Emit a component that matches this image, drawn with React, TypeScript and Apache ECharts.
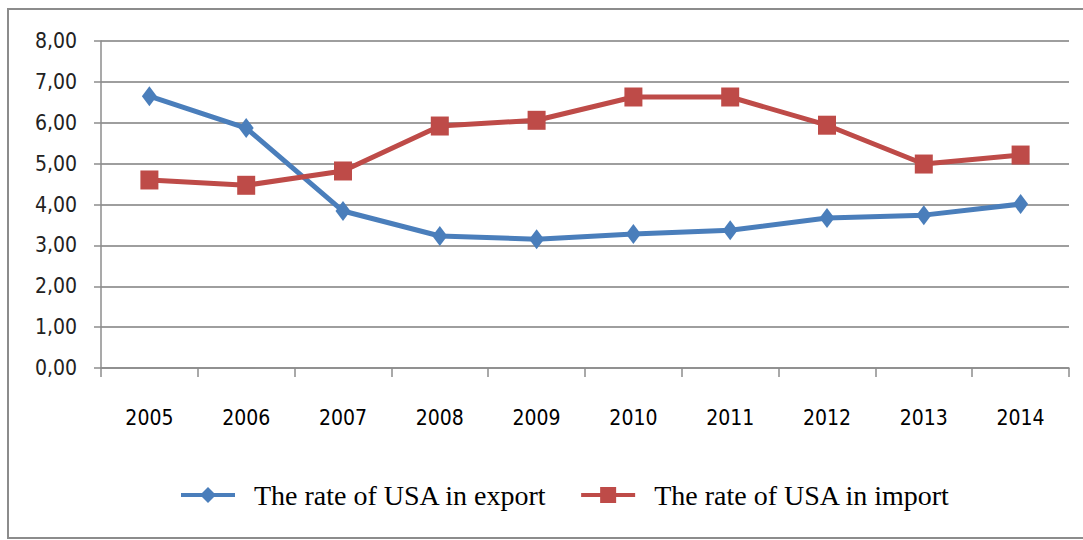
import React, { useEffect, useRef } from "react";
import * as echarts from "echarts";

const years = ["2005", "2006", "2007", "2008", "2009", "2010", "2011", "2012", "2013", "2014"];
const exportRate = [6.65, 5.87, 3.84, 3.23, 3.15, 3.28, 3.37, 3.67, 3.74, 4.01];
const importRate = [4.6, 4.47, 4.82, 5.92, 6.06, 6.63, 6.63, 5.94, 4.99, 5.21];
const seriesNames = ["The rate of USA in export", "The rate of USA in import"];

export default function App() {
  const ref = useRef<HTMLDivElement>(null);
  useEffect(() => {
    if (!ref.current) return;
    const chart = echarts.init(ref.current, null, { renderer: "svg" });
    const labelFont = "'DejaVu Sans Condensed', 'DejaVu Sans', sans-serif";
    chart.setOption({
      animation: false,
      backgroundColor: "#ffffff",
      graphic: [
        {
          type: "rect",
          shape: { x: 8, y: 9, width: 1090, height: 529 },
          style: { fill: "none", stroke: "#8c8c8c", lineWidth: 2 },
          silent: true,
        },
      ],
      grid: { left: 101, right: 14, top: 41, bottom: 172 },
      xAxis: {
        type: "category",
        data: years,
        boundaryGap: true,
        axisLine: { lineStyle: { color: "#8c8c8c", width: 1.5 } },
        axisTick: { show: true, length: 9, lineStyle: { color: "#8c8c8c", width: 1.5 } },
        axisLabel: { color: "#000", fontFamily: labelFont, fontSize: 21, margin: 39 },
      },
      yAxis: {
        type: "value",
        min: 0,
        max: 8,
        interval: 1,
        axisLine: { show: true, lineStyle: { color: "#8c8c8c", width: 1.5 } },
        axisTick: { show: true, length: 7, lineStyle: { color: "#8c8c8c", width: 1.5 } },
        splitLine: { lineStyle: { color: "#9e9e9e", width: 1.8 } },
        axisLabel: {
          color: "#222",
          fontFamily: labelFont,
          fontSize: 21,
          margin: 24,
          formatter: (v: number) => v.toFixed(2).replace(".", ","),
        },
      },
      legend: {
        data: seriesNames,
        left: 174,
        top: 476,
        itemWidth: 54,
        itemHeight: 20,
        itemGap: 32,
        lineStyle: { width: 4 },
        textStyle: {
          fontFamily: "'Liberation Serif', 'Times New Roman', serif",
          fontSize: 28,
          color: "#000",
          padding: [0, 0, 0, 14],
        },
      },
      series: [
        {
          name: seriesNames[0],
          type: "line",
          data: exportRate,
          symbol: "diamond",
          symbolSize: [15, 20],
          lineStyle: { color: "#4a7ebb", width: 5 },
          itemStyle: { color: "#4a7ebb" },
        },
        {
          name: seriesNames[1],
          type: "line",
          data: importRate,
          symbol: "rect",
          symbolSize: [18, 19],
          lineStyle: { color: "#be4b48", width: 5 },
          itemStyle: { color: "#be4b48" },
        },
      ],
    });
    return () => chart.dispose();
  }, []);
  return (
    <div
      ref={ref}
      style={{ position: "fixed", left: 0, top: 0, width: 1083, height: 540 }}
    />
  );
}
